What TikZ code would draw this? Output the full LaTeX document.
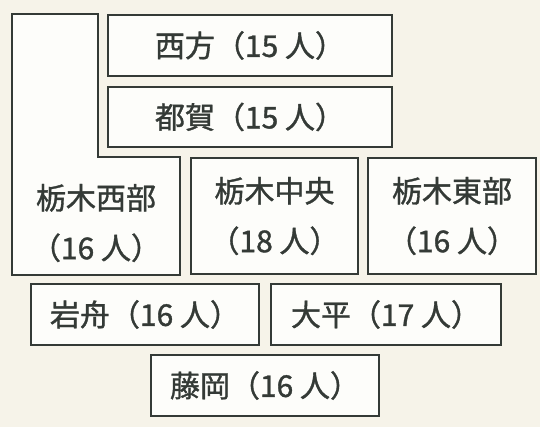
\documentclass[tikz,border=0pt]{standalone}
\usepackage{fontspec}
\setmainfont[FakeBold=1.2]{Noto Sans CJK JP}
\usepackage{tikz}
\tikzset{>=latex}
\definecolor{paper}{RGB}{246,243,233}
\definecolor{boxline}{RGB}{52,58,54}
\definecolor{boxfill}{RGB}{253,253,250}
\tikzset{
  box/.style = {draw=boxline, fill=boxfill, line width=1.8pt, inner sep=0pt,
    text=boxline, font=\fontsize{30}{50}\selectfont, align=center},
}
\begin{document}
\begin{tikzpicture}[x=1pt, y=-1pt]
            \fill[paper] (0, 0) rectangle (540, 427);
            \draw[boxline, fill=boxfill, line width=1.8pt] (12, 14) -- (98, 14) -- (98, 157) -- (180, 157) -- (180, 275) -- (12, 275) -- cycle;
            \node[text=boxline, font=\fontsize{30}{50}\selectfont, align=center] (nishi) at (96, 223) {栃木西部\\（16 人）};
            \node[box, minimum width=284, minimum height=61] (saiho) at (250, 45.5) {西方（15 人）};
            \node[box, minimum width=284, minimum height=60] (tsuga) at (250, 117) {都賀（15 人）};
            \node[box, minimum width=167, minimum height=116] (chuo) at (274.5, 216) {栃木中央\\（18 人）};
            \node[box, minimum width=168, minimum height=116] (higashi) at (452, 216) {栃木東部\\（16 人）};
            \node[box, minimum width=228, minimum height=61] (iwafune) at (145, 314.5) {岩舟（16 人）};
            \node[box, minimum width=230, minimum height=61] (ohira) at (386, 314.5) {大平（17 人）};
            \node[box, minimum width=228, minimum height=61] (fujioka) at (265, 385.5) {藤岡（16 人）};
        \end{tikzpicture}
\end{document}
